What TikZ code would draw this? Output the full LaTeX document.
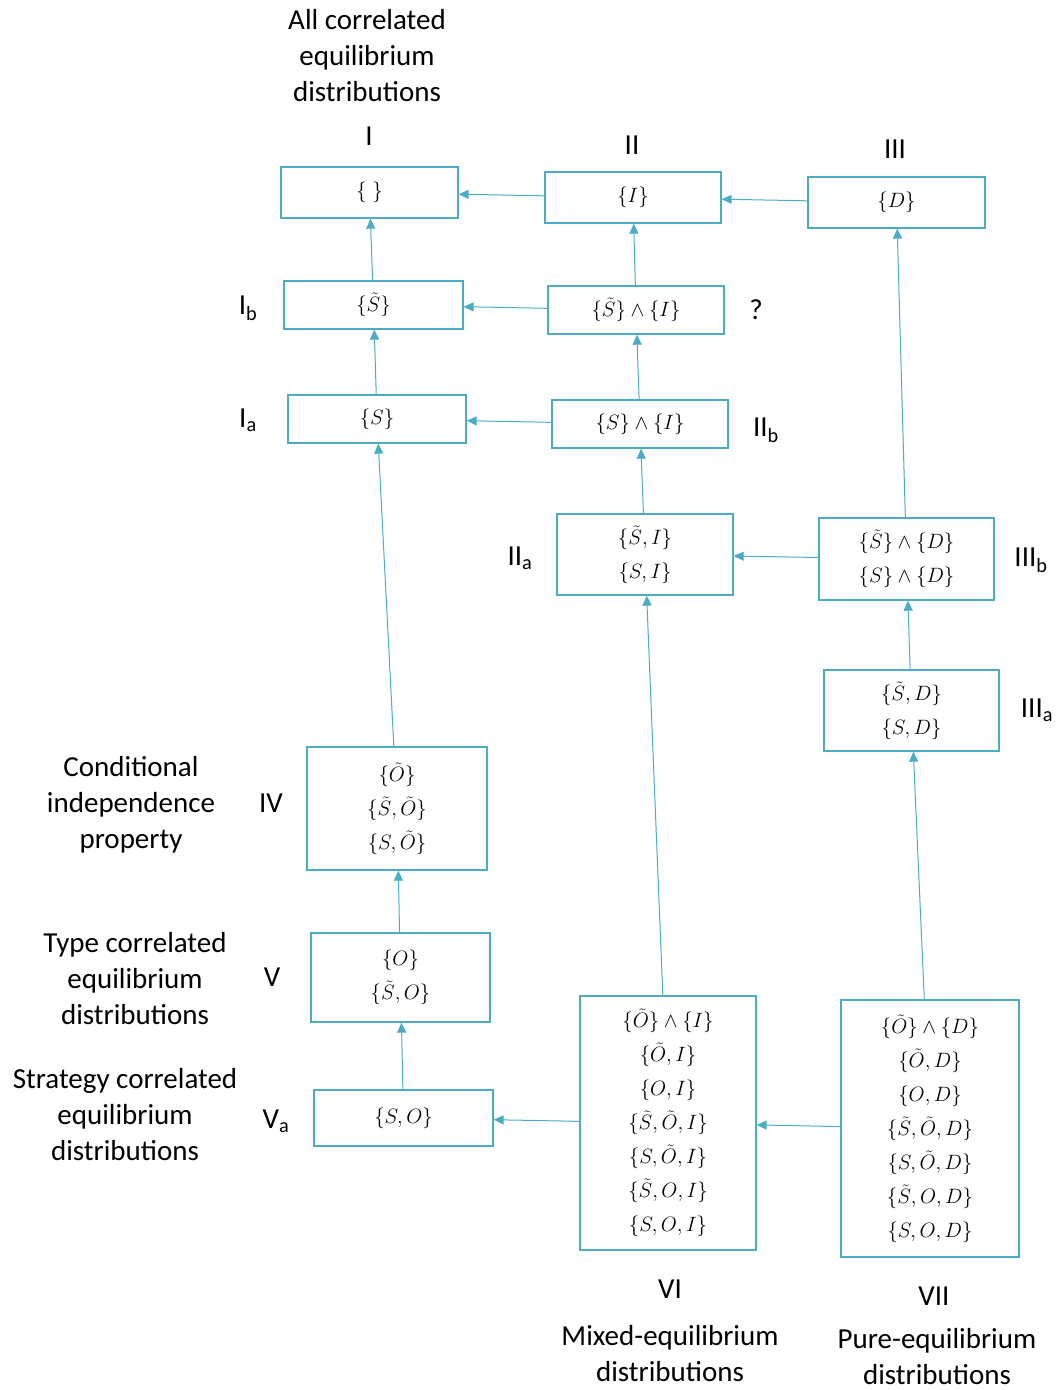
\documentclass[tikz,border=0pt]{standalone}
\usepackage{fontspec}
\setmainfont{Carlito}
\usetikzlibrary{arrows.meta}
\definecolor{cblue}{HTML}{4BACC6}
\begin{document}
\begin{tikzpicture}[x=1pt,y=-1pt,
  box/.style={draw=cblue, line width=1.3pt, align=center, inner sep=0pt,
    font=\fontsize{21}{34}\selectfont},
  lab/.style={align=center, inner sep=0pt, font=\fontsize{29}{36}\selectfont},
  arr/.style={draw=cblue, line width=1pt, -{Triangle[length=10pt,width=9pt]}}]
\useasboundingbox (0,0) rectangle (1056,1390);
% boxes
\node[box, minimum width=177, minimum height=51] (I) at (369.5,192.5) {$\{\;\}$};
\node[box, minimum width=176, minimum height=51] (II) at (633,197.5) {$\{I\}$};
\node[box, minimum width=177, minimum height=51] (III) at (896.5,202.5) {$\{D\}$};
\node[box, minimum width=179, minimum height=48] (Ib) at (373.5,305) {$\{\tilde S\}$};
\node[box, minimum width=176, minimum height=48] (Q) at (636,310) {$\{\tilde S\}\wedge\{I\}$};
\node[box, minimum width=178, minimum height=48] (Ia) at (377,419) {$\{S\}$};
\node[box, minimum width=176, minimum height=48] (IIb) at (640,424) {$\{S\}\wedge\{I\}$};
\node[box, minimum width=176, minimum height=81] (IIa) at (645,554.5) {$\{\tilde S,I\}$\\$\{S,I\}$};
\node[box, minimum width=175, minimum height=82] (IIIb) at (906.5,559) {$\{\tilde S\}\wedge\{D\}$\\$\{S\}\wedge\{D\}$};
\node[box, minimum width=175, minimum height=81] (IIIa) at (911.5,710.5) {$\{\tilde S,D\}$\\$\{S,D\}$};
\node[box, minimum width=180, minimum height=123] (IV) at (397,808.5) {$\{\tilde O\}$\\$\{\tilde S,\tilde O\}$\\$\{S,\tilde O\}$};
\node[box, minimum width=179, minimum height=89] (V) at (400.5,977.5) {$\{O\}$\\$\{\tilde S,O\}$};
\node[box, minimum width=179, minimum height=56] (Va) at (403.5,1118) {$\{S,O\}$};
\node[box, minimum width=176, minimum height=254] (VI) at (668,1123) {$\{\tilde O\}\wedge\{I\}$\\$\{\tilde O,I\}$\\$\{O,I\}$\\$\{\tilde S,\tilde O,I\}$\\$\{S,\tilde O,I\}$\\$\{\tilde S,O,I\}$\\$\{S,O,I\}$};
\node[box, minimum width=178, minimum height=257] (VII) at (930,1128.5) {$\{\tilde O\}\wedge\{D\}$\\$\{\tilde O,D\}$\\$\{O,D\}$\\$\{\tilde S,\tilde O,D\}$\\$\{S,\tilde O,D\}$\\$\{\tilde S,O,D\}$\\$\{S,O,D\}$};
% arrows
\draw[arr] (II) -- (I);
\draw[arr] (III) -- (II);
\draw[arr] (Ib) -- (I);
\draw[arr] (Q) -- (II);
\draw[arr] (Q) -- (Ib);
\draw[arr] (Ia) -- (Ib);
\draw[arr] (IIb) -- (Q);
\draw[arr] (IIb) -- (Ia);
\draw[arr] (IIa) -- (IIb);
\draw[arr] (IIIb) -- (IIa);
\draw[arr] (IIIb) -- (III);
\draw[arr] (IIIa) -- (IIIb);
\draw[arr] (IV) -- (Ia);
\draw[arr] (V) -- (IV);
\draw[arr] (Va) -- (V);
\draw[arr] (VI) -- (IIa);
\draw[arr] (VI) -- (Va);
\draw[arr] (VII) -- (VI);
\draw[arr] (VII) -- (IIIa);
% labels
\node[lab] (tAll) at (367,56) {All correlated\\equilibrium\\distributions};
\node[lab] (nI) at (369,136) {I};
\node[lab] (nII) at (632,145) {II};
\node[lab] (nIII) at (895,149) {III};
\node[lab] (nIb) at (248,308) {I\textsubscript{b}};
\node[lab] (nQ) at (756,310) {?};
\node[lab] (nIa) at (248,420) {I\textsubscript{a}};
\node[lab] (nIIb) at (766,430) {II\textsubscript{b}};
\node[lab] (nIIa) at (520,558) {II\textsubscript{a}};
\node[lab] (nIIIb) at (1031,560) {III\textsubscript{b}};
\node[lab] (nIIIa) at (1037,710) {III\textsubscript{a}};
\node[lab] (tCond) at (131,805) {Conditional\\independence\\property};
\node[lab] (nIV) at (271,803) {IV};
\node[lab] (tType) at (135,979) {Type correlated\\equilibrium\\distributions};
\node[lab] (nV) at (272,977) {V};
\node[lab] (tStrat) at (125,1115) {Strategy correlated\\equilibrium\\distributions};
\node[lab] (nVa) at (276,1121) {V\textsubscript{a}};
\node[lab] (nVI) at (670,1289) {VI};
\node[lab] (tMixed) at (670,1354) {Mixed-equilibrium\\distributions};
\node[lab] (nVII) at (934,1296) {VII};
\node[lab] (tPure) at (937,1357) {Pure-equilibrium\\distributions};
\end{tikzpicture}
\end{document}
